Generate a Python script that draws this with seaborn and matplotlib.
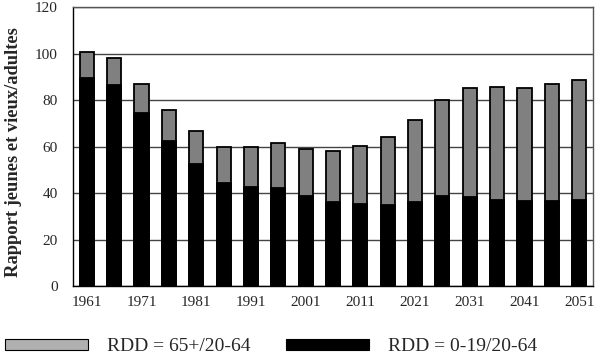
import matplotlib
matplotlib.use("Agg")
import matplotlib.pyplot as plt
import seaborn as sns
import numpy as np
import pandas as pd
from matplotlib.patches import Patch

years = [1961, 1966, 1971, 1976, 1981, 1986, 1991, 1996, 2001, 2006,
         2011, 2016, 2021, 2026, 2031, 2036, 2041, 2046, 2051]
# total dependency ratio (young + old) and young part
total = [100.7, 98.0, 87.0, 75.7, 66.8, 59.7, 59.7, 61.4, 58.8, 58.0,
         60.4, 64.2, 71.5, 80.3, 85.2, 85.7, 85.2, 87.0, 88.8]
young = [89.6, 86.4, 74.4, 62.4, 52.5, 44.6, 42.8, 42.4, 38.6, 36.4,
         35.5, 34.9, 36.4, 38.6, 38.2, 37.2, 36.8, 36.8, 37.2]
tick_labels = [str(y) if i % 2 == 0 else "" for i, y in enumerate(years)]

df = pd.DataFrame({"year": [str(y) for y in years], "total": total, "young": young})

sns.set_style("white")
plt.rcParams["font.family"] = ["Liberation Serif", "DejaVu Serif"]

fig, ax = plt.subplots(figsize=(6, 3.6), dpi=100)
fig.subplots_adjust(left=0.122, right=0.988, top=0.98, bottom=0.205)

ax.yaxis.grid(True, color="#444444", linewidth=1.0)
ax.set_axisbelow(True)

sns.barplot(data=df, x="year", y="total", color="#808080", width=0.52,
            edgecolor="black", linewidth=1.3, saturation=1, ax=ax)
sns.barplot(data=df, x="year", y="young", color="black", width=0.52,
            edgecolor="black", linewidth=1.3, saturation=1, ax=ax)

ax.set_ylim(0, 120)
ax.set_yticks(np.arange(0, 121, 20))
ax.set_xlim(-0.5, len(years) - 0.5)
ax.set_xticks(range(len(years)))
ax.set_xticklabels(tick_labels)
ax.set_xticks(np.arange(-0.5, len(years), 1), minor=True)
ax.tick_params(axis="x", which="major", length=0, labelsize=11, pad=7)
ax.tick_params(axis="x", which="minor", length=4, width=1, color="black", direction="out")
ax.tick_params(axis="y", length=4, width=1, color="black", direction="out",
               labelsize=11, pad=7)

ax.set_xlabel("")
ax.set_ylabel("Rapport jeunes et vieux/adultes", fontsize=13.3, fontweight="bold")
ax.yaxis.set_label_coords(-0.099, 0.482)

for side in ["left", "bottom"]:
    ax.spines[side].set_color("black")
    ax.spines[side].set_linewidth(1.0)
for side in ["top", "right"]:
    ax.spines[side].set_color("#555555")
    ax.spines[side].set_linewidth(1.0)

handles = [Patch(facecolor="#b0b0b0", edgecolor="black", linewidth=0.8),
           Patch(facecolor="black", edgecolor="black", linewidth=0.8)]
fig.legend(handles, ["RDD = 65+/20-64", "RDD = 0-19/20-64"], ncol=2,
           loc="center left", bbox_to_anchor=(0.008, 0.037), frameon=False,
           fontsize=14, handlelength=4.27, handleheight=0.46, handletextpad=0.98,
           columnspacing=1.85, borderaxespad=0, borderpad=0)

fig.savefig("out.png", dpi=100)
